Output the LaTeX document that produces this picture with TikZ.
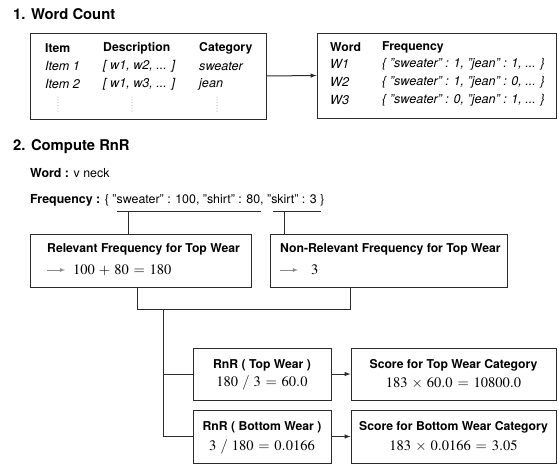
\documentclass[tikz,border=0pt]{standalone}
\usepackage{mathptmx}
\usepackage[no-math]{fontspec}
\setmainfont{TeX Gyre Heros}
\usepackage{tikz}
\tikzset{>=latex}
\usetikzlibrary{calc,arrows,positioning}
\definecolor{boxline}{HTML}{2B2B2B}
\definecolor{dotgray}{HTML}{8A8A8A}
\medmuskip=5mu plus 2mu minus 2mu
\thickmuskip=6mu plus 2mu minus 2mu
\tikzset{
  box/.style 2 args={draw=boxline,line width=1pt,minimum width=#1,minimum height=#2,inner sep=0pt},
  txt/.style={anchor=west,inner sep=0pt,font=\fontsize{12.4}{14}\selectfont},
  hd/.style={txt,font=\fontsize{12.2}{14}\selectfont\bfseries},
  itl/.style={txt,font=\fontsize{12.6}{14}\selectfont\itshape},
  sec/.style={anchor=west,inner sep=0pt,font=\fontsize{14.8}{16}\selectfont\bfseries},
  frm/.style={inner sep=0pt,font=\fontsize{14.5}{16}\selectfont},
  vdot/.style={dotgray,line width=1pt,line cap=round,dash pattern=on 0pt off 2.8pt},
  conn/.style={draw=boxline,line width=1pt},
}

\begin{document}
\begin{tikzpicture}[x=1pt,y=-1pt]
    \useasboundingbox (0,0) rectangle (559,464);

    % 1. word count
    \node[sec] (t1) at (13,14) {1. Word Count};
    \node[box={236pt}{86pt}] (items) at (148,76) {};
    \node[hd] (hitem) at (45,48) {Item};
    \node[hd] (hdesc) at (103,48) {Description};
    \node[hd] (hcat) at (199,48) {Category};
    \node[itl] (i1) at (45,66) {Item 1};
    \node[itl] (d1) at (103,66) {[ w1, w2, ... ]};
    \node[itl] (c1) at (199,66) {sweater};
    \node[itl] (i2) at (45,84) {Item 2};
    \node[itl] (d2) at (103,84) {[ w1, w3, ... ]};
    \node[itl] (c2) at (199,84) {jean};
    \draw[vdot] (58,97) -- (58,111);
    \draw[vdot] (132,97) -- (132,111);
    \draw[vdot] (217,97) -- (217,111);

    \node[box={239pt}{85pt}] (words) at (436.5,75.5) {};
    \node[hd] (hword) at (330,47) {Word};
    \node[hd] (hfreq) at (382,47) {Frequency};
    \node[itl] (w1) at (330,64) {W1};
    \node[itl] (f1) at (382,64) {\{ "sweater" : 1, "jean" : 1, ... \}};
    \node[itl] (w2) at (330,82) {W2};
    \node[itl] (f2) at (382,82) {\{ "sweater" : 1, "jean" : 0, ... \}};
    \node[itl] (w3) at (330,100) {W3};
    \node[itl] (f3) at (382,100) {\{ "sweater" : 0, "jean" : 1, ... \}};

    \draw[conn,->] (items.east) -- (words.west);

    % 2. compute rnr
    \node[sec] (t2) at (13,147) {2. Compute RnR};
    \node[txt] (word) at (30,173) {\textbf{Word :} v neck};
    \node[txt] (freq) at (30,200) {\textbf{Frequency :} \{ "sweater" : 100, "shirt" : 80, "skirt" : 3 \}};

    \coordinate (u1a) at (117,211);
    \coordinate (u1b) at (261,211);
    \coordinate (u2a) at (273,211);
    \coordinate (u2b) at (321,211);
    \coordinate (d1) at (128,211);
    \coordinate (d2) at (284,211);
    \draw[conn] (u1a) -- (u1b);
    \draw[conn] (u2a) -- (u2b);

    \node[box={221pt}{53pt}] (rel) at (140.5,260.5) {};
    \node[hd] (relt) at (47,249) {Relevant Frequency for Top Wear};
    \draw[->,dotgray,line width=0.8pt] (47,270) -- (65,270);
    \node[frm,anchor=west] (relf) at (73,270) {$100+80=180$};

    \node[box={237pt}{53pt}] (nonrel) at (388.5,260.5) {};
    \node[hd] (nonrelt) at (280,249) {Non-Relevant Frequency for Top Wear};
    \draw[->,dotgray,line width=0.8pt] (280,270) -- (298,270);
    \node[frm,anchor=west] (nonrelf) at (311,270) {$3$};

    \draw[conn] (d1) -- (d1 |- rel.north);
    \draw[conn] (d2) -- (d2 |- nonrel.north);

    \coordinate (j) at (163,309);
    \coordinate (ja) at (137,309);
    \coordinate (jb) at (350,309);
    \draw[conn] (ja |- rel.south) -- (ja) -- (jb) -- (jb |- nonrel.south);

    \node[box={138pt}{52pt}] (rnrtop) at (262,374) {};
    \node[hd,anchor=center] (rnrtopt) at (rnrtop.center) [yshift=9pt] {RnR ( Top Wear )};
    \node[frm] (rnrtopf) at (rnrtop.center) [yshift=-9pt] {$180\ /\ 3=60.0$};

    \node[box={205pt}{52pt}] (scoretop) at (453.5,374) {};
    \node[hd,anchor=center] (scoretopt) at (scoretop.center) [yshift=9pt] {Score for Top Wear Category};
    \node[frm] (scoretopf) at (scoretop.center) [yshift=-9pt] {$183\times 60.0=10800.0$};

    \node[box={138pt}{53pt}] (rnrbot) at (262,436.5) {};
    \node[hd,anchor=center] (rnrbott) at (rnrbot.center) [yshift=9.5pt] {RnR ( Bottom Wear )};
    \node[frm] (rnrbotf) at (rnrbot.center) [yshift=-10pt] {$3\ /\ 180=0.0166$};

    \node[box={205pt}{53pt}] (scorebot) at (453.5,436.5) {};
    \node[hd,anchor=center] (scorebott) at (scorebot.center) [yshift=9.5pt] {Score for Bottom Wear Category};
    \node[frm] (scorebotf) at (scorebot.center) [yshift=-10pt] {$183\times 0.0166=3.05$};

    \draw[conn] (j) |- (rnrtop.west);
    \draw[conn] (j) |- (rnrbot.west);
    \draw[conn,->] (rnrtop) -- (scoretop);
    \draw[conn,->] (rnrbot) -- (scorebot);
\end{tikzpicture}
\end{document}
